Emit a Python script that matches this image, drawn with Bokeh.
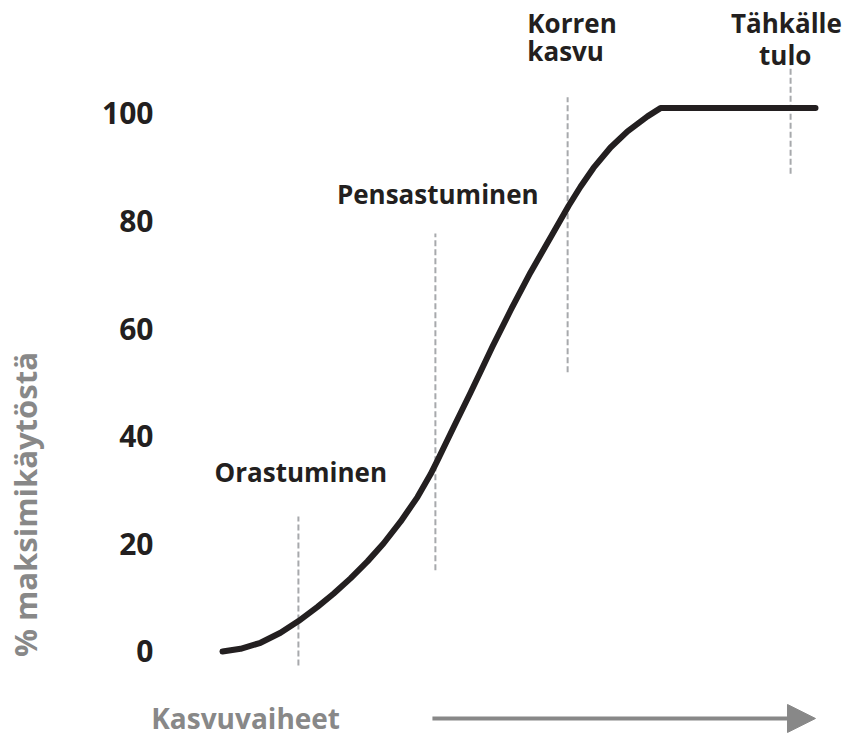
import math
from bokeh.plotting import figure
from bokeh.layouts import row
from bokeh.models import Range1d, FixedTicker, Arrow, NormalHead
from bokeh.embed import file_html
from bokeh.resources import INLINE
from bokeh.core.properties import value

# ---- data ----
stage_progress = [0.0, 3.04, 6.41, 9.78, 12.82, 16.02, 18.72, 21.59, 24.45, 27.15, 30.02,
                  32.88, 35.08, 36.26, 38.95, 41.82, 43.51, 45.53, 48.57, 51.94, 55.82,
                  58.35, 60.37, 62.56, 65.43, 68.30, 71.67, 73.86, 100.0]
percent_of_max = [0.0, 0.50, 1.62, 3.48, 5.65, 8.30, 10.74, 13.59, 16.75, 20.07, 24.13,
                  28.70, 32.93, 35.53, 41.63, 48.10, 52.01, 56.69, 63.38, 70.45, 77.93,
                  82.81, 86.38, 89.88, 93.67, 96.67, 99.46, 101.0, 101.0]

y_ticks = [0, 20, 40, 60, 80, 100]

stage_x = [12.8, 35.9, 58.2, 95.8]
stage_line_bottom = [-2.6, 15.1, 51.9, 88.8]
stage_line_top = [25.1, 77.7, 103.0, 108.9]

label_text = ["Orastuminen", "Pensastuminen", "Korren", "kasvu", "Tähkälle", "tulo"]
label_x = [13.2, 36.3, 51.4, 51.4, 95.1, 94.9]
label_y = [33.3, 85.1, 116.9, 111.7, 116.9, 110.8]
label_align = ["center", "center", "left", "left", "center", "center"]

x_title = "Kasvuvaiheet"
y_title = "% maksimikäytöstä"

FONT = "Open Sans"
DARK = "#231f20"
GRAY = "#888888"

y_range = Range1d(-15.8, 121.0)

# narrow strip holding the vertical axis title
t = figure(width=50, height=736, output_backend="svg", toolbar_location=None,
           x_range=Range1d(0, 50), y_range=y_range,
           min_border_left=0, min_border_right=0, min_border_top=0, min_border_bottom=0,
           x_axis_location=None, y_axis_location=None)
t.outline_line_color = None
t.grid.visible = False
t.text(x=[24], y=[27.3], text=[y_title], angle=math.pi / 2, text_align="center",
       text_baseline="middle", text_font=value(FONT), text_font_style="bold",
       text_font_size="31px", text_color=GRAY)

p = figure(width=795, height=736, output_backend="svg", toolbar_location=None,
           x_range=Range1d(-13.83, 105.06), y_range=y_range,
           min_border_left=90, min_border_right=0, min_border_top=0, min_border_bottom=0,
           x_axis_location=None)
p.outline_line_color = None
p.grid.visible = False
p.background_fill_color = "white"
p.border_fill_color = "white"

ax = p.yaxis[0]
ax.ticker = FixedTicker(ticks=y_ticks)
ax.axis_line_color = None
ax.major_tick_line_color = None
ax.minor_tick_line_color = None
ax.major_tick_out = 0
ax.major_tick_in = 0
ax.major_label_standoff = -13
ax.major_label_text_font = FONT
ax.major_label_text_font_style = "bold"
ax.major_label_text_font_size = "30px"
ax.major_label_text_color = DARK

# dashed stage markers
p.segment(x0=stage_x, y0=stage_line_bottom, x1=stage_x, y1=stage_line_top,
          line_color="#a7a9ac", line_width=2, line_dash="6 3")

# curve
p.line(stage_progress, percent_of_max, line_color=DARK, line_width=6,
       line_cap="round", line_join="round")

# stage labels
p.text(x=label_x, y=label_y, text=label_text, text_align=label_align,
       text_baseline="middle", text_font=value(FONT), text_font_style="bold",
       text_font_size="26px", text_color=DARK)

# x direction label and arrow
p.text(x=[3.9], y=[-12.45], text=[x_title], text_align="center", text_baseline="middle",
       text_font=value(FONT), text_font_style="bold", text_font_size="28px", text_color=GRAY)
p.add_layout(Arrow(x_start=35.4, y_start=-12.45, x_end=100.0, y_end=-12.45,
                   line_color=GRAY, line_width=4,
                   end=NormalHead(size=28, fill_color=GRAY, line_color=GRAY)))

layout = row(t, p, spacing=0)
open("out.html", "w").write(file_html(layout, INLINE))
